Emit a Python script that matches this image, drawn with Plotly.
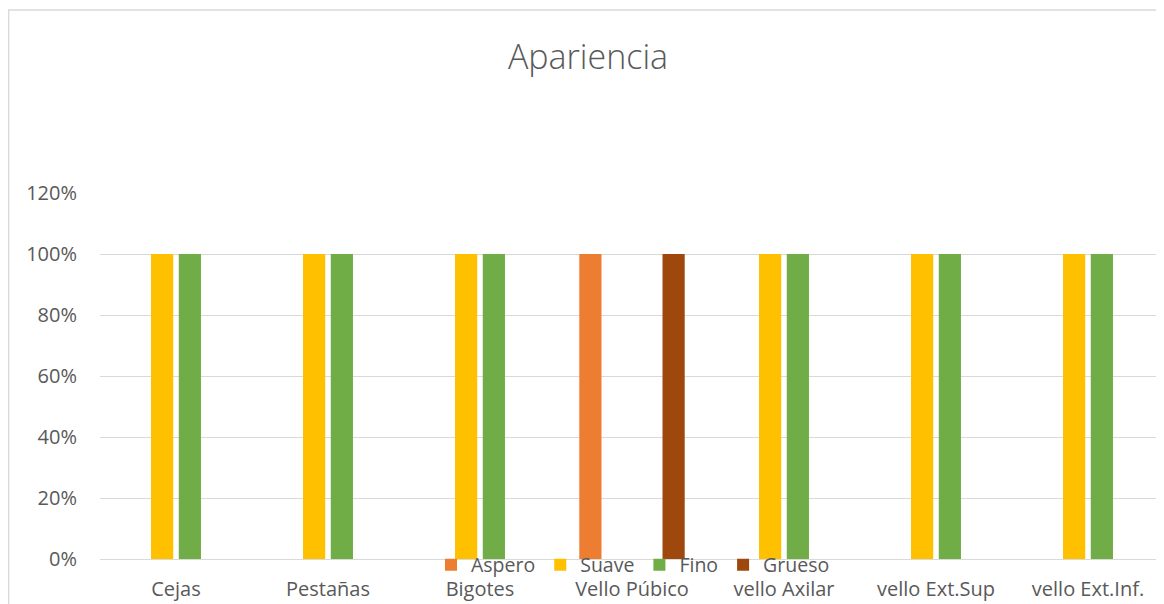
import plotly.graph_objects as go

categories = ["Cejas", "Pestañas", "Bigotes", "Vello Púbico", "vello Axilar", "vello Ext.Sup", "vello Ext.Inf."]
aspero = [0, 0, 0, 1.0, 0, 0, 0]
suave = [1.0, 1.0, 1.0, 0, 1.0, 1.0, 1.0]
fino = [1.0, 1.0, 1.0, 0, 1.0, 1.0, 1.0]
grueso = [0, 0, 0, 1.0, 0, 0, 0]

series = [
    ("Aspero", aspero, "#ED7D31"),
    ("Suave", suave, "#FFC000"),
    ("Fino", fino, "#70AD47"),
    ("Grueso", grueso, "#9E480E"),
]

FONT = "Open Sans, Liberation Sans, sans-serif"
TXT = "#595959"
GRID = "#D9D9D9"

fig = go.Figure()
for name, vals, col in series:
    fig.add_trace(go.Bar(x=categories, y=vals, name=name, marker_color=col,
                         marker_line_width=0))

# page offset of the plot div (body margin)
OFF = 8
W, H = 1156, 596
L, R, T, B = 92, 0, 185, 45
pw = W - L - R
ph = H - T - B


def px_x(sx):
    return (sx - OFF - L) / pw


def px_y(sy):
    return (H - B - (sy - OFF)) / ph


fig.update_layout(
    width=W, height=H,
    margin=dict(l=L, r=R, t=T, b=B, autoexpand=False),
    paper_bgcolor="white", plot_bgcolor="white",
    barmode="group", bargap=0.27, bargroupgap=0.2,
    font=dict(family=FONT, color=TXT, size=20),
    title=dict(text="Apariencia", x=px_x(588), xref="paper", xanchor="center",
               y=1 - (57 - OFF) / H, yref="container", yanchor="middle",
               font=dict(family=FONT, size=34, color=TXT, weight=300)),
    showlegend=True,
    legend=dict(orientation="h", x=px_x(431), xanchor="left",
                y=px_y(565), yanchor="middle",
                font=dict(family=FONT, size=19.5, color=TXT),
                bgcolor="rgba(0,0,0,0)", traceorder="normal"),
    xaxis=dict(range=[-0.5, 6.5], showgrid=False, showline=False, zeroline=False,
               ticks="", tickfont=dict(size=20, color=TXT), ticklabelstandoff=16),
    yaxis=dict(range=[0, 1.2], dtick=0.2, tickformat=".0%", showgrid=True,
               gridcolor=GRID, gridwidth=1.3, zeroline=True, zerolinecolor=GRID,
               zerolinewidth=1.3, showline=False, ticks="",
               tickfont=dict(size=20, color=TXT), ticklabelstandoff=22),
    shapes=[dict(type="rect", xref="paper", yref="paper",
                 x0=(0.7 - L) / pw, x1=px_x(1180), y0=px_y(10), y1=px_y(620),
                 line=dict(color=GRID, width=1.3), fillcolor="rgba(0,0,0,0)",
                 layer="below")],
)

fig.write_html("out.html")
